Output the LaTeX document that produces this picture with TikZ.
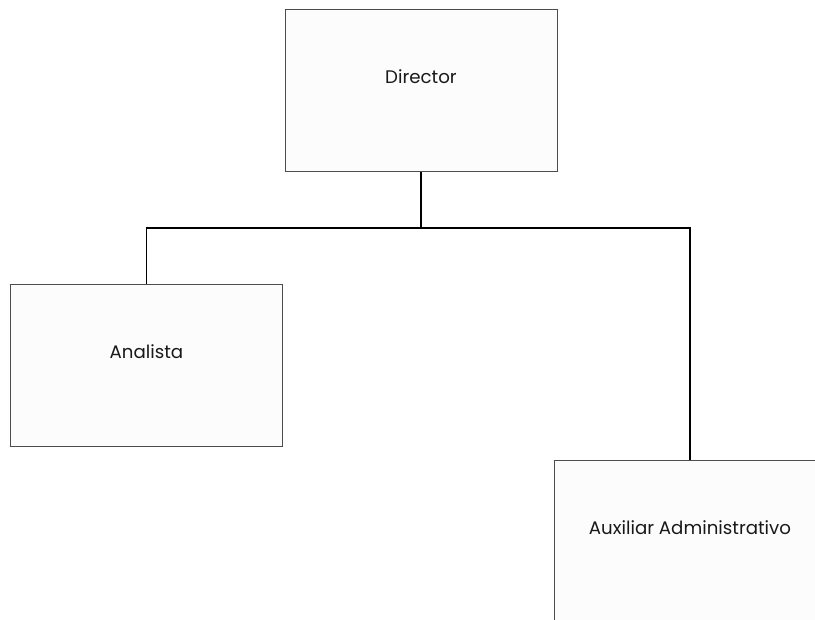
\documentclass[tikz,border=0pt]{standalone}
\usepackage{fontspec}
\setmainfont{Poppins}
\begin{document}
\begin{tikzpicture}[x=1pt,y=-1pt,
  orgbox/.style={draw=black!70,line width=0.8pt,fill=black!1,minimum width=272pt,minimum height=162pt,inner sep=0pt},
  orglabel/.style={font=\fontsize{18.2}{20}\selectfont,text=black!90,inner sep=0pt},
  link/.style={draw=black,line width=1.8pt}]
\useasboundingbox (0,0) rectangle (815,620);
\clip (0,0) rectangle (815,620);
\fill[white] (0,0) rectangle (815,620);
\node[orgbox] (dir) at (421,90.5) {};
\node[orgbox] (ana) at (146.5,365.5) {};
\node[orgbox] (aux) at (690,541) {};
\node[orglabel] at ([yshift=13.5pt]dir.center) {Director};
\node[orglabel] at ([yshift=13.5pt]ana.center) {Analista};
\node[orglabel] at ([yshift=13.5pt]aux.center) {Auxiliar Administrativo};
\coordinate (mid) at (421,228);
\draw[link] (dir.south) -- (mid);
\draw[link] (ana.north) |- (mid) -| (aux.north);
\end{tikzpicture}
\end{document}
